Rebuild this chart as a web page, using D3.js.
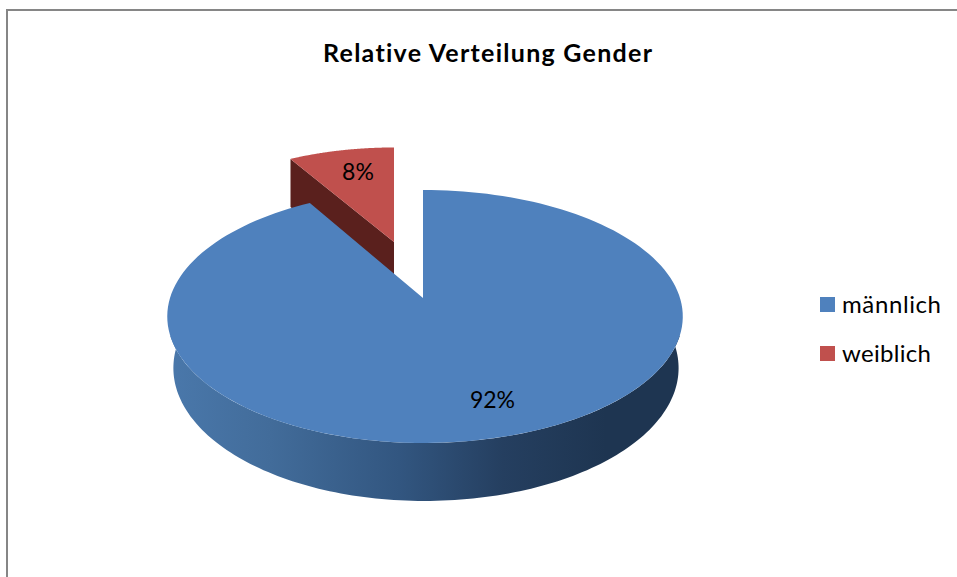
<!DOCTYPE html>
<html><head><meta charset="utf-8">
<script src="https://cdn.jsdelivr.net/npm/d3@7"></script>
<style>html,body{margin:0;padding:0;background:#fff}svg{display:block}text{font-variant-ligatures:none}</style></head>
<body><svg id="c" width="957" height="577"></svg>
<script>
const categories = ["männlich", "weiblich"];
const shares = [0.916, 0.084];
const titleText = "Relative Verteilung Gender";
const colors = ["#4f81bd", "#c0504d"];
const FONT = "Lato, Carlito, sans-serif";

const svg = d3.select("#c");
const defs = svg.append("defs");
const wallGrad = defs.append("linearGradient").attr("id","wall").attr("gradientUnits","userSpaceOnUse")
  .attr("x1",167).attr("x2",683).attr("y1",0).attr("y2",0);
[[0,"#4a78ab"],[0.2,"#426c9a"],[0.45,"#325680"],[0.65,"#253f60"],[0.85,"#1e3551"],[1,"#1e3551"]]
  .forEach(s=>wallGrad.append("stop").attr("offset",s[0]).attr("stop-color",s[1]));

svg.append("rect").attr("x",7).attr("y",10).attr("width",1000).attr("height",1000)
  .attr("fill","#fff").attr("stroke","#868686").attr("stroke-width",2);

svg.append("text").attr("x",487.5).attr("y",62).attr("text-anchor","middle")
  .attr("font-family",FONT).attr("font-weight",700).attr("font-size",25)
  .attr("textLength",329).attr("lengthAdjust","spacing").attr("fill","#000").text(titleText);

// Perspective disc: angle (0 = up, clockwise) -> screen point
const k = 0.146, AL = 253, AR = 257, B = 123.8;
function proj(a, ox, oy, sx, sy){
  const u = Math.sin(a), v = -Math.cos(a), w = 1 - k*v;
  return [ox + sx*(u<0?AL:AR)*u/w, oy + sy*B*v/w];
}
const line = d3.line();
const arcPts = (a0,a1,ox,oy,sx,sy) => d3.range(0,161).map(i=>proj(a0+(a1-a0)*i/160,ox,oy,sx,sy));

const pie = d3.pie().sort(null)(shares);
const blue = pie[0], red = pie[1];

// Red slice (drawn first, behind blue)
const rx = 394, ry = 242, rsx = 0.915, rsy = 0.875, rd = 48;
const rl = proj(red.startAngle, rx, ry, rsx, rsy);
svg.append("path").attr("d", line([[rx,ry],rl,[rl[0],rl[1]+rd],[rx,ry+rd]])+"Z").attr("fill","#5a201d");
svg.append("path").attr("d", line([[rx,ry],...arcPts(red.startAngle,red.endAngle,rx,ry,rsx,rsy)])+"Z").attr("fill",colors[1]);

// Blue wall
const ox = 423, oy = 298;
const top_ = arcPts(Math.PI*0.594, Math.PI*1.406, ox, oy, 1, 1);
const bot = arcPts(Math.PI*0.468, Math.PI*1.532, ox+1, 348.6, 0.98, 1.051).reverse();
svg.append("path").attr("d", line([...top_, ...bot])+"Z").attr("fill","url(#wall)");
// Blue top face
svg.append("path").attr("d", line([[ox,oy],...arcPts(blue.startAngle,blue.endAngle,ox,oy,1,1)])+"Z").attr("fill",colors[0]);

// Data labels
const fmt = d3.format(".0%");
[[492.5,408,0,45],[358,180,1,32]].forEach(p=>{
  svg.append("text").attr("x",p[0]).attr("y",p[1]).attr("text-anchor","middle")
    .attr("font-family",FONT).attr("font-size",23).attr("textLength",p[3]).attr("lengthAdjust","spacing")
    .attr("fill","#000").text(fmt(shares[p[2]]));
});

// Legend
const legendY = d3.scalePoint().domain(categories).range([297,346]);
const legendW = [99, 89];
categories.forEach((c,i)=>{
  svg.append("rect").attr("x",820).attr("y",legendY(c)).attr("width",15).attr("height",15).attr("fill",colors[i]);
  svg.append("text").attr("x",842).attr("y",legendY(c)+16).attr("font-family",FONT).attr("font-size",24)
    .attr("textLength",legendW[i]).attr("lengthAdjust","spacing").attr("fill","#000").text(c);
});
</script></body></html>
